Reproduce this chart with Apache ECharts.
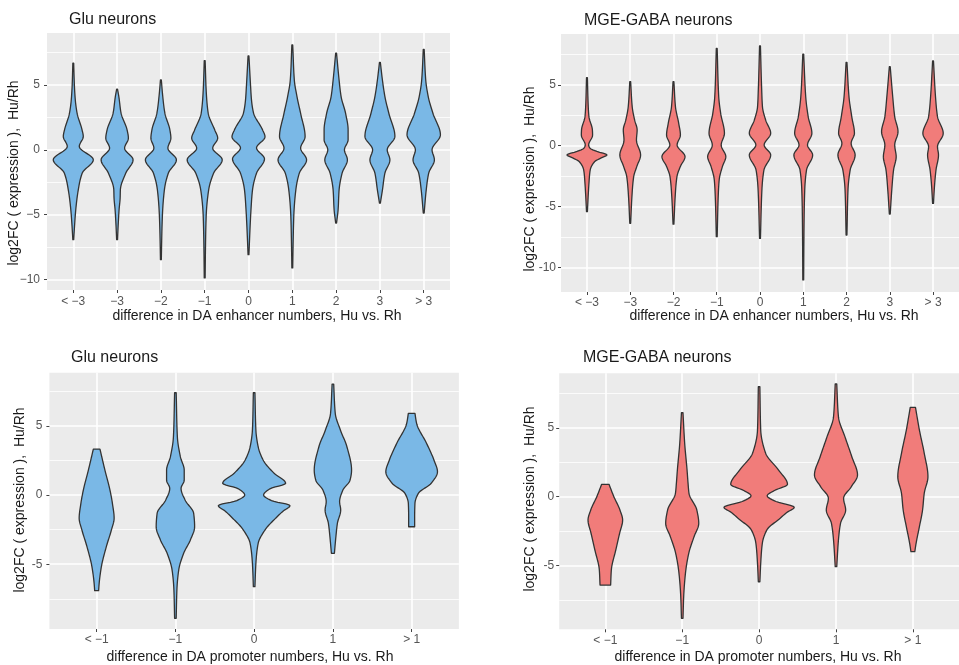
<!DOCTYPE html>
<html><head><meta charset="utf-8">
<script src="https://cdn.jsdelivr.net/npm/echarts@6/dist/echarts.min.js"></script>
<style>html,body{margin:0;padding:0;background:#fff}#c{width:959px;height:665px}</style>
</head><body><div id="c"></div>
<script>
// ---------- categories & tick labels ----------
const enhancerCats = ['< \u22123', '\u22123', '\u22122', '\u22121', '0', '1', '2', '3', '> 3'];
const promoterCats = ['< \u22121', '\u22121', '0', '1', '> 1'];
const yTicksEnh = [-10, -5, 0, 5];
const yTicksProm = [-5, 0, 5];
const yMinor = [-7.5, -2.5, 2.5, 7.5];
const yLabelsEnhTL = ['\u221210', '\u22125', '0', '5'];
const yLabelsEnhTR = ['-10', '-5', '0', '5'];
const yLabelsProm = ['-5', '0', '5'];

// ---------- violin profiles: [log2FC value, half-width in category units] ----------
const gluEnhancer = [
  [[6.67,.01],[5,.025],[3.85,.046],[2.82,.087],[1.54,.2],[1.03,.228],[0.26,.137],[-0.77,.457],[-1.79,.205],[-3.08,.114],[-4.6,.057],[-5.8,.03],[-6.92,.01]],
  [[4.67,.01],[4.1,.04],[2.82,.091],[1.54,.228],[0.9,.258],[0.13,.171],[-0.77,.365],[-1.79,.199],[-3.08,.075],[-3.7,.07],[-4.6,.046],[-5.8,.025],[-6.92,.01]],
  [[5.38,.01],[4.2,.04],[2.82,.091],[1.54,.205],[0.9,.228],[0.13,.16],[-0.77,.354],[-1.79,.171],[-3.08,.08],[-5.1,.034],[-7,.018],[-8.46,.01]],
  [[6.87,.01],[4.5,.035],[2.82,.08],[1.54,.228],[0.9,.297],[0.13,.183],[-0.77,.4],[-1.79,.205],[-3.08,.091],[-5.1,.034],[-7.5,.018],[-9.87,.01]],
  [[7.23,.01],[5,.046],[3.85,.068],[2.85,.114],[1.54,.32],[1.0,.377],[0.15,.183],[-0.7,.365],[-1.8,.183],[-3.1,.091],[-4.6,.057],[-6.1,.034],[-8.08,.01]],
  [[8.08,.01],[5.38,.046],[4.1,.107],[2.8,.19],[1.02,.292],[0.13,.19],[-0.77,.326],[-1.8,.16],[-3.1,.08],[-5.1,.034],[-7,.02],[-9.1,.01]],
  [[7.44,.01],[5.38,.068],[4.1,.114],[2.8,.217],[1.54,.274],[0.77,.274],[0,.19],[-0.77,.258],[-1.8,.137],[-3.1,.068],[-4.6,.046],[-5.64,.01]],
  [[6.74,.01],[5.38,.057],[4.1,.114],[2.8,.205],[1.03,.342],[0,.167],[-0.77,.228],[-1.8,.114],[-3.1,.057],[-4.1,.01]],
  [[7.74,.01],[5.38,.046],[4.1,.103],[2.8,.212],[1.15,.381],[0,.19],[-0.77,.244],[-1.8,.114],[-3.1,.057],[-4.87,.01]]
];
const gabaEnhancer = [
  [[5.6,.01],[3.2,.03],[2.39,.046],[1.29,.126],[0.88,.13],[0.06,.039],[-0.2,.07],[-0.47,.23],[-0.76,.463],[-1.0,.33],[-1.3,.18],[-2.0,.075],[-3.1,.046],[-5.42,.01]],
  [[5.27,.01],[3.2,.046],[2.1,.103],[1.3,.16],[0.47,.144],[-0.76,.24],[-1.7,.153],[-2.55,.08],[-4.2,.039],[-6.38,.01]],
  [[5.27,.01],[3.2,.046],[1.84,.121],[0.88,.16],[0.06,.084],[-0.9,.267],[-1.7,.16],[-2.55,.08],[-4.2,.039],[-6.45,.01]],
  [[8.0,.01],[4.03,.046],[2.66,.091],[1.02,.178],[0.06,.103],[-0.9,.21],[-1.7,.132],[-2.8,.057],[-4.2,.034],[-7.48,.01]],
  [[8.22,.01],[4.5,.04],[3.2,.057],[2.1,.132],[1.02,.247],[0.06,.096],[-0.76,.247],[-2.0,.091],[-3.5,.046],[-7.62,.01]],
  [[7.54,.01],[4.03,.057],[2.39,.114],[1.02,.199],[0.06,.098],[-0.76,.217],[-2.0,.075],[-3.64,.034],[-6,.02],[-11.04,.01]],
  [[6.86,.01],[4.03,.057],[2.39,.121],[1.02,.183],[0.2,.107],[-0.76,.199],[-2.0,.084],[-3.64,.034],[-7.34,.01]],
  [[6.5,.01],[4.03,.068],[2.39,.114],[1.15,.19],[0.06,.114],[-0.9,.148],[-2.0,.087],[-3.64,.046],[-5.62,.01]],
  [[6.97,.01],[4.03,.057],[2.39,.103],[1.02,.235],[-0.08,.103],[-0.76,.126],[-2.0,.068],[-3.3,.034],[-4.74,.01]]
];
const gluPromoter = [
  [[3.32,.042],[1.8,.105],[0.36,.169],[-0.6,.2],[-1.68,.222],[-2.53,.187],[-3.73,.123],[-5.18,.06],[-6.38,.032],[-6.91,.025]],
  [[7.39,.01],[4.21,.025],[2.77,.063],[1.8,.112],[1.08,.112],[0.48,.072],[-0.36,.123],[-1.32,.232],[-2.29,.244],[-3.25,.19],[-4.21,.105],[-5.42,.042],[-6.86,.019],[-8.91,.01]],
  [[7.39,.01],[4.7,.022],[3.49,.051],[2.53,.114],[1.57,.254],[0.85,.4],[0.45,.2],[0,.12],[-0.4,.22],[-0.77,.455],[-1.15,.37],[-1.57,.292],[-2.53,.137],[-3.49,.051],[-4.94,.022],[-6.62,.01]],
  [[8.02,.01],[5.9,.03],[4.7,.095],[3.49,.178],[1.8,.237],[1.08,.218],[0.36,.127],[-0.48,.085],[-1.08,.099],[-2.05,.057],[-3.01,.038],[-4.21,.019]],
  [[5.9,.042],[5.18,.063],[3.73,.19],[2.53,.283],[1.68,.328],[0.85,.248],[0.12,.085],[-0.6,.042],[-1.57,.038],[-2.29,.038]]
];
const gabaPromoter = [
  [[0.9,.048],[0,.111],[-0.97,.19],[-1.7,.225],[-2.66,.186],[-3.88,.136],[-5.34,.078],[-6.43,.069]],
  [[6.11,.01],[3.89,.032],[1.94,.063],[0.97,.076],[0.25,.088],[-0.97,.19],[-1.94,.215],[-2.91,.154],[-4.12,.085],[-5.58,.042],[-7.28,.019],[-8.85,.01]],
  [[8.0,.01],[4.85,.021],[3.16,.085],[1.94,.253],[0.9,.369],[0.45,.2],[0.07,.105],[-0.35,.22],[-0.77,.457],[-1.15,.36],[-1.57,.274],[-2.42,.101],[-3.39,.042],[-4.85,.021],[-6.19,.01]],
  [[8.2,.01],[5.82,.032],[4.37,.116],[2.91,.206],[1.58,.28],[0.73,.2],[-0.12,.099],[-0.97,.126],[-1.94,.059],[-3.15,.032],[-5.09,.01]],
  [[6.5,.034],[4.85,.085],[3.16,.148],[1.46,.196],[0.25,.148],[-0.97,.126],[-2.18,.085],[-3.39,.042],[-4.0,.025]]
];

// ---------- layout / style ----------
const BLUE = '#7AB8E6', RED = '#F17C7A', OUTLINE = '#333333';
const FONT = '"Liberation Sans", Arial, sans-serif';
const yTitle = 'log2FC ( expression ),  Hu/Rh';
const panels = [
  {cats: enhancerCats, v: gluEnhancer, fill: BLUE, grid: {left: 47, top: 33, width: 403, height: 257}, y: [-10.8, 9.0],
   ticks: yTicksEnh, labels: yLabelsEnhTL, title: 'Glu neurons', tpos: [69, 20],
   xname: 'difference in DA enhancer numbers, Hu vs. Rh', xpos: [257, 316], ypos: [14, 173], xm: 6, ym: 7},
  {cats: enhancerCats, v: gabaEnhancer, fill: RED, grid: {left: 561, top: 34, width: 403, height: 258}, y: [-12.03, 9.19],
   ticks: yTicksEnh, labels: yLabelsEnhTR, title: 'MGE-GABA neurons', tpos: [584, 21],
   xname: 'difference in DA enhancer numbers, Hu vs. Rh', xpos: [774, 316], ypos: [530, 179], xm: 5, ym: 5},
  {cats: promoterCats, v: gluPromoter, fill: BLUE, grid: {left: 49.4, top: 372.7, width: 409.5, height: 256.3}, y: [-9.68, 8.84],
   ticks: yTicksProm, labels: yLabelsProm, title: 'Glu neurons', tpos: [71, 358],
   xname: 'difference in DA promoter numbers, Hu vs. Rh', xpos: [250, 657], ypos: [20, 500], xm: 5, ym: 7},
  {cats: promoterCats, v: gabaPromoter, fill: RED, grid: {left: 559.2, top: 373.3, width: 411.8, height: 256}, y: [-9.65, 8.98],
   ticks: yTicksProm, labels: yLabelsProm, title: 'MGE-GABA neurons', tpos: [583, 358],
   xname: 'difference in DA promoter numbers, Hu vs. Rh', xpos: [758, 657], ypos: [530, 499], xm: 5, ym: 5}
];

function monotoneSample(xs, ys, step) {
  const n = xs.length, dx = [], m = [], t = [];
  for (let k = 0; k < n - 1; k++) { dx[k] = xs[k + 1] - xs[k]; m[k] = (ys[k + 1] - ys[k]) / dx[k]; }
  t[0] = m[0]; t[n - 1] = m[n - 2];
  for (let k = 1; k < n - 1; k++) {
    if (m[k - 1] * m[k] <= 0) t[k] = 0;
    else { const w1 = 2 * dx[k] + dx[k - 1], w2 = dx[k] + 2 * dx[k - 1]; t[k] = (w1 + w2) / (w1 / m[k - 1] + w2 / m[k]); }
  }
  const out = [];
  for (let k = 0; k < n - 1; k++) {
    const h = dx[k], N = Math.max(2, Math.ceil(h / step));
    for (let s = 0; s < N; s++) {
      const u = s / N, u2 = u * u, u3 = u2 * u;
      const v = (2 * u3 - 3 * u2 + 1) * ys[k] + (u3 - 2 * u2 + u) * h * t[k] + (-2 * u3 + 3 * u2) * ys[k + 1] + (u3 - u2) * h * t[k + 1];
      out.push([xs[k] + u * h, Math.max(0.4, v)]);
    }
  }
  out.push([xs[n - 1], Math.max(0.4, ys[n - 1])]);
  return out;
}

const grids = [], xAxes = [], yAxes = [], series = [], graphics = [];
panels.forEach((p, k) => {
  grids.push(Object.assign({show: true, backgroundColor: '#EBEBEB', borderWidth: 0, containLabel: false}, p.grid));
  const idx = p.cats.map((c, i) => i);
  xAxes.push({
    type: 'value', gridIndex: k, min: -0.6, max: p.cats.length - 1 + 0.6, position: 'bottom',
    axisLine: {show: false, onZero: false},
    axisTick: {show: true, length: 3, lineStyle: {color: '#444', width: 1}, customValues: idx},
    axisLabel: {customValues: idx, margin: p.xm, color: '#555', fontSize: 12, fontFamily: FONT,
      formatter: v => p.cats[Math.round(v)]},
    splitLine: {show: true, lineStyle: {color: '#FFFFFF', width: 1.6}}
  });
  yAxes.push({
    type: 'value', gridIndex: k, min: p.y[0], max: p.y[1], position: 'left',
    axisLine: {show: false, onZero: false},
    axisTick: {show: true, length: 3, lineStyle: {color: '#444', width: 1}, customValues: p.ticks},
    axisLabel: {customValues: p.ticks, margin: p.ym, color: '#555', fontSize: 12, fontFamily: FONT,
      formatter: v => p.labels[p.ticks.indexOf(Math.round(v))]},
    splitLine: {show: true, lineStyle: {color: '#FFFFFF', width: 1.6}}
  });
  yAxes.push({
    type: 'value', gridIndex: k, min: p.y[0], max: p.y[1], position: 'left',
    axisLine: {show: false, onZero: false},
    axisTick: {show: false, customValues: yMinor},
    axisLabel: {show: false, customValues: yMinor},
    splitLine: {show: true, lineStyle: {color: '#FFFFFF', width: 0.8}}
  });
  series.push({
    type: 'custom', xAxisIndex: k, yAxisIndex: 2 * k, clip: true, silent: true,
    data: idx.map(i => [i, 0]),
    encode: {x: 0, y: 1},
    renderItem: (params, api) => {
      const i = api.value(0);
      const prof = p.v[i];
      const cx = api.coord([i, 0])[0];
      const unit = api.size([1, 0])[0];
      const pys = prof.map(q => api.coord([i, q[0]])[1]);
      const hws = prof.map(q => q[1] * unit);
      const smp = monotoneSample(pys, hws, 1);
      const right = smp.map(s => [cx + s[1], s[0]]);
      const left = smp.map(s => [cx - s[1], s[0]]).reverse();
      return {type: 'polygon', shape: {points: right.concat(left)},
        style: {fill: p.fill, stroke: OUTLINE, lineWidth: 1.3, lineJoin: 'round'}};
    }
  });
  graphics.push({type: 'text', x: p.tpos[0], y: p.tpos[1], silent: true,
    style: {text: p.title, font: '16px ' + FONT, fill: '#1a1a1a', align: 'left', verticalAlign: 'middle'}});
  graphics.push({type: 'text', x: p.xpos[0], y: p.xpos[1], silent: true,
    style: {text: p.xname, font: '14px ' + FONT, fill: '#1a1a1a', align: 'center', verticalAlign: 'middle'}});
  graphics.push({type: 'text', x: p.ypos[0], y: p.ypos[1], rotation: Math.PI / 2, silent: true,
    style: {text: yTitle, font: '14px ' + FONT, fill: '#1a1a1a', align: 'center', verticalAlign: 'middle'}});
});

const chart = echarts.init(document.getElementById('c'), null, {renderer: 'canvas'});
chart.setOption({
  animation: false,
  backgroundColor: '#FFFFFF',
  grid: grids, xAxis: xAxes, yAxis: yAxes, series: series, graphic: graphics
});
</script></body></html>
